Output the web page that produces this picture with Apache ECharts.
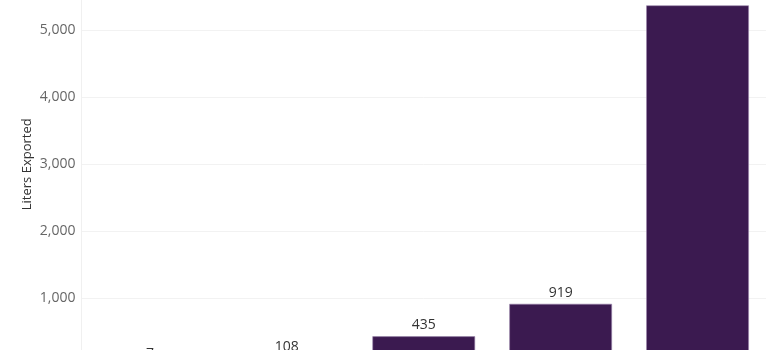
<!DOCTYPE html>
<html>
<head>
<meta charset="utf-8">
<script src="https://cdn.jsdelivr.net/npm/echarts@6/dist/echarts.min.js"></script>
<style>
html,body{margin:0;padding:0;width:778px;height:350px;overflow:hidden;background:#fff;}
#c{position:absolute;left:0;top:-40px;width:778px;height:460px;}
</style>
</head>
<body>
<div id="c"></div>
<script>
var categories = ['A', 'B', 'C', 'D', 'E'];
var litersExported = [7, 108, 435, 919, 5368];
var yTicks = [0, 1000, 2000, 3000, 4000, 5000, 6000];
var yAxisName = 'Liters Exported';

var chart = echarts.init(document.getElementById('c'), null, {renderer: 'canvas'});
chart.setOption({
  animation: false,
  grid: {left: 81.5, right: 12, top: 3, height: 402.5, containLabel: false, outerBoundsMode: 'none'},
  xAxis: {
    type: 'category',
    data: categories,
    axisLine: {show: false},
    axisTick: {show: false},
    axisLabel: {show: false}
  },
  yAxis: {
    type: 'value',
    min: yTicks[0],
    max: yTicks[yTicks.length - 1],
    interval: 1000,
    name: yAxisName,
    nameLocation: 'middle',
    nameGap: 48,
    nameMoveOverlap: false,
    nameTextStyle: {fontFamily: 'Open Sans', fontSize: 13, color: '#333'},
    axisLine: {show: true, lineStyle: {color: '#f0f0f0', width: 1}},
    axisTick: {show: false},
    axisLabel: {
      fontFamily: 'Open Sans', fontSize: 14, color: '#666', margin: 6,
      formatter: function (v) { return v.toLocaleString('en-US'); }
    },
    splitLine: {show: true, lineStyle: {color: '#f2f2f2', width: 1}}
  },
  series: [{
    type: 'bar',
    data: litersExported,
    barWidth: '75%',
    itemStyle: {color: '#3b1a50', borderColor: '#9a84ab', borderWidth: 0.6},
    label: {
      show: true, position: 'top', distance: 4,
      fontFamily: 'Open Sans', fontSize: 14, color: '#333',
      formatter: function (p) { return p.value.toLocaleString('en-US'); }
    }
  }]
});
</script>
</body>
</html>
